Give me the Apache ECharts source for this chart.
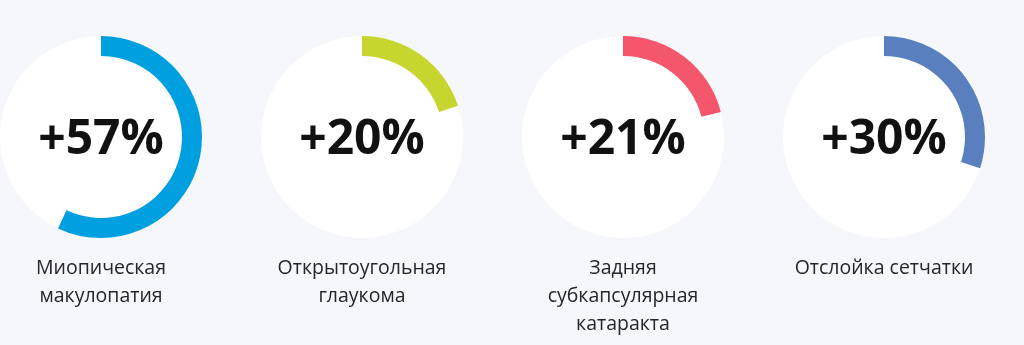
<!DOCTYPE html>
<html>
<head>
<meta charset="utf-8">
<script src="https://cdn.jsdelivr.net/npm/echarts@6/dist/echarts.min.js"></script>
<style>
html,body{margin:0;padding:0;background:#f5f7fa;}
#c{width:1024px;height:345px;}
</style>
</head>
<body>
<div id="c"></div>
<script>
const categories = [
  "Миопическая\nмакулопатия",
  "Открытоугольная\nглаукома",
  "Задняя\nсубкапсулярная\nкатаракта",
  "Отслойка сетчатки"
];
const values = [57, 20, 21, 30];
const palette = ["#009fdf", "#c7d52f", "#f4566c", "#5a7fbf"];
const centersX = [101, 362, 623, 884];
const LINE_H = 28;

const chart = echarts.init(document.getElementById('c'), null, {renderer: 'canvas'});
const series = categories.map((name, i) => {
  const nLines = name.split('\n').length;
  return {
    type: 'gauge',
    center: [centersX[i], 137],
    radius: 101,
    startAngle: 90,
    endAngle: -270,
    min: 0,
    max: 100,
    clockwise: true,
    pointer: {show: false},
    axisTick: {show: false},
    splitLine: {show: false},
    axisLabel: {show: false},
    anchor: {show: false},
    axisLine: {lineStyle: {width: 101, color: [[1, '#ffffff']]}},
    progress: {show: true, width: 20, roundCap: false, itemStyle: {color: palette[i]}},
    title: {
      show: true,
      offsetCenter: [0, 131 + (nLines - 1) * LINE_H / 2],
      color: '#262626',
      fontSize: 19.5,
      fontFamily: 'Open Sans',
      lineHeight: LINE_H
    },
    detail: {
      show: true,
      offsetCenter: [0, 3],
      formatter: '+{value}%',
      color: '#111111',
      fontSize: 48,
      fontWeight: 'bold',
      fontFamily: 'Open Sans'
    },
    data: [{value: values[i], name: categories[i]}]
  };
});
chart.setOption({
  backgroundColor: '#f5f7fa',
  animation: false,
  series: series
});
</script>
</body>
</html>
